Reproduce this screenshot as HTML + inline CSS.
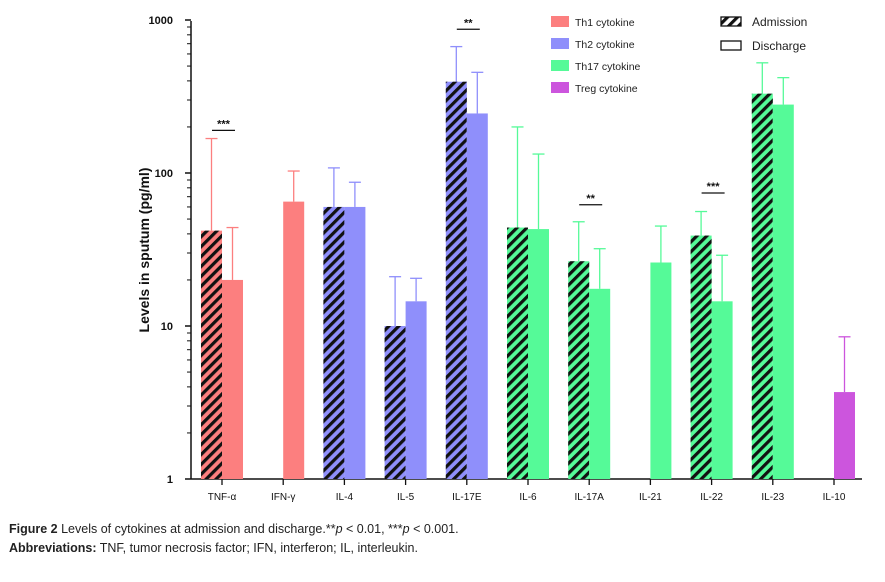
<!DOCTYPE html>
<html><head><meta charset="utf-8"><style>
body{margin:0;background:#fff;width:885px;height:582px;overflow:hidden;font-family:"Liberation Sans",sans-serif}
svg{position:absolute;left:0;top:0}
.cap{position:absolute;left:9px;font-size:12.5px;color:#222}
</style></head><body>
<svg width="885" height="520">
<defs><pattern id="hatch" patternUnits="userSpaceOnUse" width="7" height="7" patternTransform="rotate(45)"><rect width="3.2" height="7" fill="#111"/></pattern></defs>
<g id="g"></g>
</svg>
<div class="cap" style="top:522px"><b>Figure 2</b> Levels of cytokines at admission and discharge.**<i>p</i> &lt; 0.01, ***<i>p</i> &lt; 0.001.</div>
<div class="cap" style="top:541px"><b>Abbreviations:</b> TNF, tumor necrosis factor; IFN, interferon; IL, interleukin.</div>
<script>
const categories=["TNF-α","IFN-γ","IL-4","IL-5","IL-17E","IL-6","IL-17A","IL-21","IL-22","IL-23","IL-10"];
const groups=[0,0,1,1,1,2,2,2,2,2,3];
const admission=[42,null,60,10,395,44,26.5,null,39,330,null];
const admissionErr=[168,null,108,21,670,200,48,null,56,525,null];
const discharge=[20,65,60,14.5,245,43,17.5,26,14.5,280,3.7];
const dischargeErr=[44,103,87,20.5,455,133,32,45,29,420,8.5];
const sigIdx=[0,4,6,8];
const sigLabel=["***","**","**","***"];
const sigVal=[190,870,62,74];
const yTicks=[1,10,100,1000];
const groupNames=["Th1 cytokine","Th2 cytokine","Th17 cytokine","Treg cytokine"];
const colors=["#fc7f7f","#8f8ffb","#55fa98","#cc55dd"];
const NS="http://www.w3.org/2000/svg";const g=document.getElementById('g');
function el(t,a,p){const e=document.createElementNS(NS,t);for(const k in a)e.setAttribute(k,a[k]);(p||g).appendChild(e);return e;}
const y=v=>479-153*Math.log10(v);const xc=i=>222+61.2*i;const bw=21;
// axes
let e=el('line',{x1:191,y1:21,x2:191,y2:479,stroke:'#111','stroke-width':1.5});

e=el('line',{x1:191,y1:479,x2:862,y2:479,stroke:'#111','stroke-width':1.5});

yTicks.forEach(t=>{
 el('line',{x1:185,y1:y(t),x2:191,y2:y(t),stroke:'#111','stroke-width':1.5});
 const tx=el('text',{x:173,y:y(t)+4,'text-anchor':'end','font-size':11,'font-weight':'bold',fill:'#111'});tx.textContent=t;
 
 if(t<1000)for(let m=2;m<10;m++)el('line',{x1:187,y1:y(t*m),x2:191,y2:y(t*m),stroke:'#111','stroke-width':1});
});
e=el('text',{x:0,y:0,transform:'translate(149,250) rotate(-90)','text-anchor':'middle','font-size':14,'font-weight':'bold',fill:'#111'});
e.textContent='Levels in sputum (pg/ml)';
function bar(x,v,err,c,hatch,name){
 el('line',{x1:x+bw/2,y1:y(err),x2:x+bw/2,y2:y(v),stroke:c,'stroke-width':1.3});
 el('line',{x1:x+bw/2-6,y1:y(err),x2:x+bw/2+6,y2:y(err),stroke:c,'stroke-width':1.3});
 const r=el('rect',{x:x,y:y(v),width:bw,height:479-y(v),fill:c});
 
 if(hatch)el('rect',{x:x,y:y(v),width:bw,height:479-y(v),fill:'url(#hatch)'});
}
categories.forEach((c,i)=>{
 const col=colors[groups[i]];
 if(admission[i]!=null)bar(xc(i)-bw,admission[i],admissionErr[i],col,true,'bar-admission-'+c);
 if(discharge[i]!=null)bar(xc(i),discharge[i],dischargeErr[i],col,false,'bar-discharge-'+c);
 el('line',{x1:xc(i),y1:479,x2:xc(i),y2:485,stroke:'#111','stroke-width':1.3});
 const t=el('text',{x:xc(i),y:500,'text-anchor':'middle','font-size':10,fill:'#111'});t.textContent=c;
 
});
sigIdx.forEach((i,k)=>{
 const yy=y(sigVal[k]);
 el('line',{x1:xc(i)-10,y1:yy,x2:xc(i)+13,y2:yy,stroke:'#111','stroke-width':1.3});
 const t=el('text',{x:xc(i)+1.5,y:yy-3,'text-anchor':'middle','font-size':11,'font-weight':'bold',fill:'#111'});t.textContent=sigLabel[k];
 
});
groupNames.forEach((n,k)=>{
 const r=el('rect',{x:551,y:16+k*22,width:18,height:11,fill:colors[k]});
 
 const t=el('text',{x:575,y:26+k*22,'font-size':10.5,fill:'#222'});t.textContent=n;
 
});
el('rect',{x:721,y:17,width:20,height:9,fill:'url(#hatch)',stroke:'#111','stroke-width':1.3});
e=el('text',{x:752,y:26,'font-size':12,fill:'#222'});e.textContent='Admission';
el('rect',{x:721,y:41,width:20,height:9,fill:'none',stroke:'#111','stroke-width':1.3});
e=el('text',{x:752,y:50,'font-size':12,fill:'#222'});e.textContent='Discharge';
</script>
</body></html>
